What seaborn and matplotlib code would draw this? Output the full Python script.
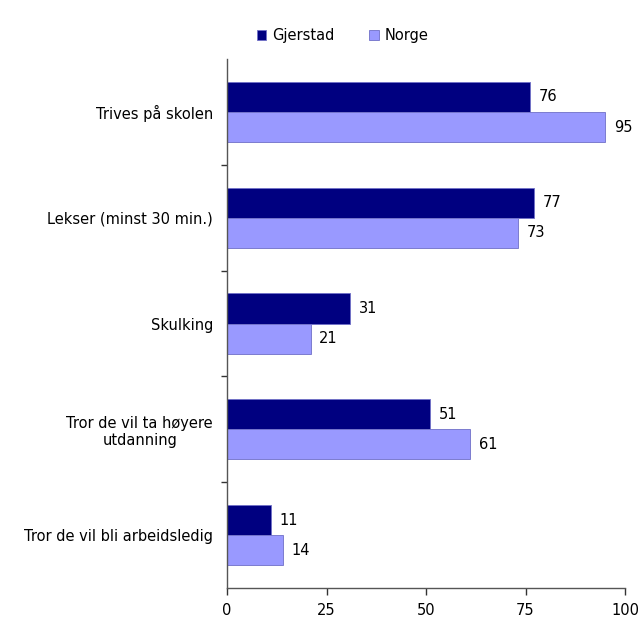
import matplotlib
matplotlib.use("Agg")
import matplotlib.pyplot as plt
import seaborn as sns
import pandas as pd
from matplotlib.ticker import FixedLocator

categories = ["Trives på skolen", "Lekser (minst 30 min.)", "Skulking",
              "Tror de vil ta høyere\nutdanning", "Tror de vil bli arbeidsledig"]
gjerstad = [76, 77, 31, 51, 11]
norge = [95, 73, 21, 61, 14]
series = ["Gjerstad", "Norge"]
colors = ["#000080", "#9999FF"]
xticks = [0, 25, 50, 75, 100]

sns.set_theme(style="white")
plt.rcParams["font.family"] = ["DejaVu Sans"]

df = pd.DataFrame({
    "kategori": categories * 2,
    "verdi": gjerstad + norge,
    "serie": [series[0]] * len(categories) + [series[1]] * len(categories),
})

fig = plt.figure(figsize=(6.42, 6.23), dpi=100)
ax = fig.add_axes([0.3536, 0.0562, 0.62, 0.849])
sns.barplot(data=df, y="kategori", x="verdi", hue="serie", orient="h",
            palette=colors, width=0.57, ax=ax, saturation=1, legend=True,
            linewidth=0.6, edgecolor="#7070C8")

ax.set_xlim(0, 100)
ax.set_xticks(xticks)
ax.set_xticklabels([str(t) for t in xticks], fontsize=10.5, color="black")
ax.set_ylim(len(categories) - 0.5, -0.5)
ax.set_xlabel("")
ax.set_ylabel("")
ax.set_yticks(range(len(categories)))
ax.set_yticklabels(categories, fontsize=10.5, color="black")
ax.tick_params(axis="y", length=0, pad=10)
for lab in ax.get_yticklabels():
    lab.set_horizontalalignment("right")
    lab.set_multialignment("center")
ax.yaxis.set_minor_locator(FixedLocator([i + 0.5 for i in range(len(categories) - 1)]))
ax.tick_params(axis="y", which="minor", length=4, width=1, color="#333333", direction="out", left=True)
ax.tick_params(axis="x", length=5, width=1, color="#333333", direction="out", bottom=True, pad=6)

for s in ["top", "right"]:
    ax.spines[s].set_visible(False)
for s in ["left", "bottom"]:
    ax.spines[s].set_color("#555555")
    ax.spines[s].set_linewidth(1)

for cont in ax.containers:
    for bar in cont:
        w = bar.get_width()
        ax.text(w + 2.2, bar.get_y() + bar.get_height() / 2, f"{w:.0f}",
                va="center", ha="left", fontsize=10.5, color="black")

leg = ax.legend(loc="center", bbox_to_anchor=(0.29, 1.045), ncol=2, frameon=False,
                fontsize=10.5, handlelength=0.65, handleheight=0.65, columnspacing=2.4,
                handletextpad=0.4)
for t in leg.get_texts():
    t.set_color("black")

fig.savefig("out.png", dpi=100)
